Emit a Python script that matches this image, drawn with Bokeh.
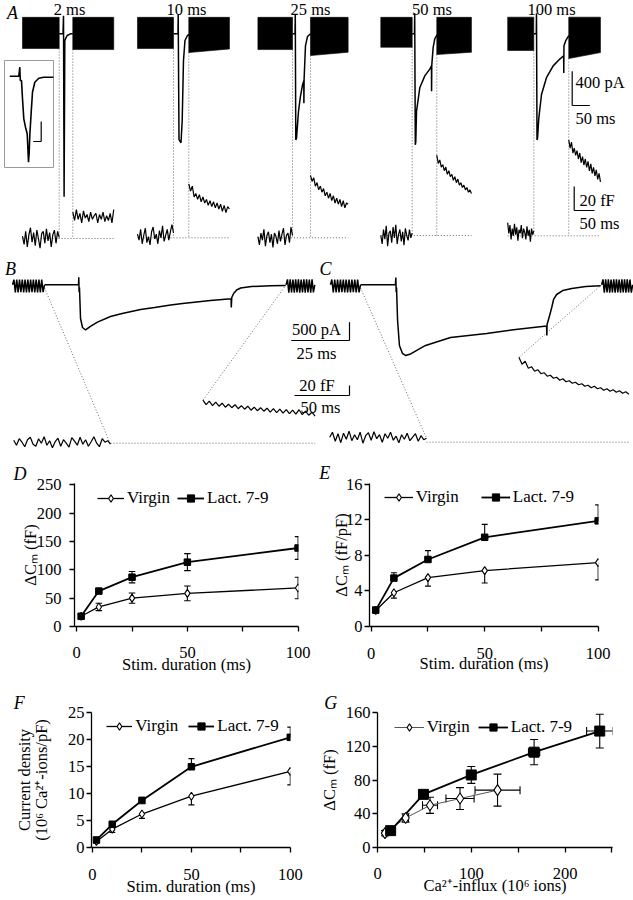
import numpy as np
from bokeh.plotting import figure
from bokeh.models import (Range1d, FixedTicker, Label, Legend, LegendItem,
                          Whisker, TeeHead, ColumnDataSource)
from bokeh.layouts import column, row
from bokeh.embed import file_html
from bokeh.resources import INLINE

# ===================== DATA =====================
stim_ms = [2, 10, 25, 50, 100]
D_virgin = [18, 34.5, 50, 58.5, 68]
D_virgin_sem = [4, 6.5, 9, 13, 19]
D_lact = [18, 62.5, 87, 113.5, 138.5]
D_lact_sem = [4, 4, 10, 15, 20]
E_virgin = [1.8, 3.8, 5.5, 6.3, 7.2]
E_virgin_sem = [0.3, 0.6, 0.95, 1.4, 1.95]
E_lact = [1.85, 5.45, 7.55, 10.05, 11.9]
E_lact_sem = [0.3, 0.6, 1.0, 1.45, 1.8]
F_virgin = [1.1, 3.4, 6.2, 9.5, 14.1]
F_virgin_sem = [0.3, 0.6, 0.8, 1.6, 2.5]
F_lact = [1.4, 4.3, 8.7, 14.95, 20.4]
F_lact_sem = [0.3, 0.4, 0.6, 1.5, 1.9]
G_virgin_influx = [8, 30, 56, 88, 128]
G_virgin_influx_sem = [2, 3, 8, 15, 24]
G_virgin_dcm = [17, 35, 50, 58, 68]
G_virgin_dcm_sem = [3, 5, 9.5, 13, 19]
G_lact_influx = [14, 49, 100, 167, 237]
G_lact_influx_sem = [2, 3, 4, 6, 14]
G_lact_dcm = [20, 63, 86, 113, 138]
G_lact_dcm_sem = [3, 4, 10, 15, 20]

# Panel A: current traces (ms from end of pre-train, pA)
A_labels = ["2 ms", "10 ms", "25 ms", "50 ms", "100 ms"]
A_t = [
    [0, 10.8, 12.2, 13.9, 15.9, 17.8, 22.6, 32, 38.5],
    [0, 12.7, 13.3, 15.6, 21.2, 24.6, 28.3, 32.5, 39.6, 48],
    [0, 7.1, 7.9, 9.3, 11.3, 17, 22.6, 28.3, 32, 32.3, 32.9, 36.8, 42.5, 51],
    [0, 6.5, 7.1, 8.8, 10.2, 12.2, 21.5, 35.7, 49.8, 54.6, 54.9, 55.5, 59.4, 64, 70.7],
    [0, 7.1, 7.6, 9.1, 10.5, 14.2, 21.8, 35.9, 54.9, 73.6, 84.6, 84.9, 85.5, 90.6, 99],
]
A_i = [
    [0, 0, 210, -1900, -80, -60, -20, 0, 0],
    [0, 0, 228, -1235, -1271, -1018, -312, -78, -20, 0],
    [0, 0, 228, -1236, -1220, -904, -727, -598, -551, -810, -527, -138, -32, 0],
    [0, 0, 240, -1295, -1259, -905, -630, -491, -412, -374, -669, -362, -158, -59, -8],
    [0, 0, 240, -1239, -1220, -984, -708, -512, -374, -295, -256, -457, -138, -79, -20],
]
A_pre_train_ms = [(-104, 0), (-102, 0), (-98, 0), (-89, 0), (-74, 0)]
A_post_train_ms = [(38.5, 154.5), (43.3, 158.5), (50.9, 157.6), (69.6, 167.8), (99, 188.8)]
A_train_top_pA = [192, 192, 192, 192, 194]
A_pre_train_bottom_pA = [-172, -172, -184, -157, -195]
A_post_train_bottom_pA = [(-184, -184), (-219, -177), (-254, -215), (-242, -215), (-289, -219)]
A_cap_pre_fF = [
    [2, -5, 6, -7, 3, 9, -3, 5, -6, 7, 0, -8, 4, 6, -4, 8, -2, 5, -7, 3, 7, -4, 6, 1],
    [3, -2, 7, -5, 2, 8, -4, 1, -6, 5, 9, -1, 3, -5, 6, 0, 10, -3, 2, 7, -2, 5, 11, 4],
    [1, -6, 4, -2, 7, -7, 2, 5, -4, 3, -8, 4, 1, -5, 6, -3, 3, 8, -6, 2, 4, -4, 9, 2],
    [0, -7, 5, -3, 8, -9, 2, 4, -6, 7, -2, 9, -7, 1, 5, -5, 3, -8, 6, 0, -4, 5, -2, 2],
    [11, 2, 9, -3, 6, 0, 10, 1, 7, -4, 5, 2, 9, -2, 6, 3, -3, 8, 0, 5, -5, 6, 1, 4],
]
A_cap_post_fF = [
    [22, 15, 24, 16, 21, 13, 23, 17, 20, 14, 22, 16, 19, 21, 13, 20, 16, 22, 14, 19, 15, 21, 13, 24],
    [45, 39, 43, 34, 37, 32, 36, 30, 34, 29, 32, 27, 31, 26, 30, 25, 29, 24, 28, 22, 27, 21, 26, 24],
    [52, 47, 50, 43, 46, 40, 43, 38, 41, 35, 38, 33, 37, 31, 35, 29, 33, 28, 32, 26, 31, 25, 29, 28],
    [67, 60, 63, 57, 59, 54, 57, 51, 54, 49, 51, 46, 49, 44, 47, 42, 44, 40, 42, 38, 40, 36, 38, 35],
    [80, 73, 78, 69, 73, 67, 71, 64, 69, 61, 66, 59, 64, 57, 62, 54, 60, 52, 57, 50, 55, 47, 52, 45],
]
inset_t = [0, 4.5, 5.0, 5.25, 5.85, 6.35, 7.0, 7.85, 8.7, 9.35, 9.7, 10.0, 10.7, 11.35, 12.5, 14.5, 17.0, 21.8]
inset_i = [0, 0, 90, -43, -43, -226, -426, -510, -576, -860, -760, -593, -360, -160, -60, -20, -10, -10]
inset_bar = (4, 200)
A_bar_I = (50, 400)
A_bar_C = (50, 20)

# Panels B and C
B_t = [0, 14.6, 14.7, 14.85, 15.0, 15.45, 16.3, 17.6, 19.7, 22.7, 28.3, 33.3, 41.2, 47.2, 54.1,
       59.2, 71.2, 80.0, 80.1, 80.3, 81.1, 82.4, 84.1, 88.8, 97.0, 103.4]
B_i = [0, 0, 208, -200, -74, -920, -1166, -1234, -1138, -1021, -865, -783, -674, -620, -551,
       -511, -429, -382, -620, -347, -238, -142, -87, -46, -27, -19]
C_t = [0, 15.0, 15.15, 15.3, 15.45, 15.9, 16.7, 18.0, 19.3, 21.5, 27.9, 38.6, 54.1, 66.5, 79.8,
       79.9, 80.0, 81.1, 82.0, 82.8, 84.1, 86.7, 90.6, 96.6, 103.0]
C_i = [0, 0, 200, -200, -74, -975, -1657, -1876, -1930, -1889, -1657, -1439, -1330, -1220, -1125,
       -1384, -1084, -838, -620, -401, -265, -156, -101, -46, -27]
B_trains_ms = [(-13.7, 0), (103.6, 115.9)]
C_trains_ms = [(-12.9, 0), (103.4, 116.7)]
B_train_pre_pA = [0, 140, -205, 145, -210, 140, -200, 145, -210, 145, -205, 140, -210, 145, -200, 140, -210, 145, -205, 140, -210, 145, -200, 0]
B_train_post_pA = [0, 150, -215, 150, -210, 145, -215, 150, -210, 150, -215, 145, -210, 150, -215, 150, -210, 145, -215, 150, -210, 0]
C_train_pre_pA = [0, 145, -210, 140, -205, 145, -210, 140, -200, 145, -210, 140, -205, 145, -210, 140, -200, 145, -210, 140, -205, 0]
C_train_post_pA = [0, 150, -215, 150, -210, 150, -215, 145, -210, 150, -215, 150, -210, 145, -215, 150, -210, 150, -215, 150, -210, 145, -215, 0]
B_cap_span_ms = [(-88, 0), (84, 186)]
C_cap_span_ms = [(-88, 0), (84, 184)]
B_cap_pre_fF = [6, -4, 9, 2, -7, 7, 12, -2, -6, 9, 0, 13, -4, 5, -9, 3, 10, -6, 7, 0, -8, 11, 4, -4, 12, -2, 7, -6, 3, 13, 0, -7, 9, 2, 5, -2]
B_cap_post_fF = [86, 77, 84, 75, 82, 74, 80, 72, 78, 71, 77, 69, 75, 68, 74, 66, 72, 65, 71, 64, 70, 62, 69, 61, 68, 60, 67, 59, 66, 58, 67, 57, 64, 56, 62, 54]
C_cap_pre_fF = [10, 20, 2, 17, -1, 18, 6, 22, 3, 15, 5, 20, -2, 13, 19, 4, 21, 7, 15, 0, 17, 8, 20, 4, 12, -1, 15, 6, 18, 3, 10, 17, 2, 13, 5, 8]
C_cap_post_fF = [170, 156, 162, 148, 151, 142, 145, 137, 139, 132, 134, 128, 130, 124, 127, 121, 123, 118, 120, 115, 117, 112, 114, 109, 112, 107, 109, 104, 107, 102, 105, 100, 103, 98, 101, 96]
BC_bar_I = (25, 500)
BC_bar_C = (50, 20)

# ===================== STYLE / LAYOUT =====================
SERIF = "Liberation Serif"
FRAMES = {}

top = figure(width=633, height=452, x_range=Range1d(0, 633), y_range=Range1d(452, 0),
             x_axis_location=None, y_axis_location=None, output_backend="svg",
             toolbar_location=None, min_border=0)
top.grid.visible = False
top.outline_line_color = None


def tx(x0, kx, t):
    return [x0 + kx * v for v in t]


def ty(y0, ky, v):
    return [y0 - ky * u for u in v]


def tlabel(text, x, y, size, align="center", style="normal"):
    top.add_layout(Label(x=x, y=y, text=text, text_font=SERIF, text_font_size=f"{size}px",
                         text_align=align, text_baseline="middle", text_font_style=style,
                         text_color="black"))


A_x0 = [58.7, 173.0, 292.0, 411.7, 533.3]
A_label_x = [69, 186, 310, 431.5, 551]
A_y_hold = 33.3
A_y_cap = [238.0, 237.3, 237.3, 235.0, 235.3]
A_kx = 0.353
A_ky = 34.3 / 400
A_cky = 24 / 20
A_ckx_bar = 20.3 / 50

pxs, pys, cxs, cys, capx, capy, dxs, dys = [], [], [], [], [], [], [], []
for k in range(5):
    x0, yc = A_x0[k], A_y_cap[k]
    p0, p1 = A_pre_train_ms[k]
    q0, q1 = A_post_train_ms[k]
    tp = A_train_top_pA[k]
    pb = A_pre_train_bottom_pA[k]
    qbl, qbr = A_post_train_bottom_pA[k]
    pxs.append(tx(x0, A_kx, [p0, p1, p1, p0]))
    pys.append(ty(A_y_hold, A_ky, [tp, tp, pb, pb]))
    pxs.append(tx(x0, A_kx, [q0, q1, q1, q0]))
    pys.append(ty(A_y_hold, A_ky, [tp, tp, qbr, qbl]))
    cxs.append(tx(x0, A_kx, A_t[k]))
    cys.append(ty(A_y_hold, A_ky, A_i[k]))
    pre, post = A_cap_pre_fF[k], A_cap_post_fF[k]
    capx.append(tx(x0, A_kx, np.linspace(p0, p1, len(pre))))
    capy.append(ty(yc, A_cky, pre))
    capx.append(tx(x0, A_kx, np.linspace(q0, q1, len(post))))
    capy.append(ty(yc, A_cky, post))
    xa, xb = tx(x0, A_kx, [p1, q0])
    dxs += [[xa, xa], [xb, xb], tx(x0, A_kx, [p0, q1])]
    dys += [[ty(A_y_hold, A_ky, [pb])[0], yc], [ty(A_y_hold, A_ky, [qbl])[0], yc], [yc, yc]]
    tlabel(A_labels[k], A_label_x[k], 8.5, 16.5)

BC_kx, BC_ky = 58.3 / 25, 18.3 / 500
BC_ckx, BC_cky = 55 / 50, 10 / 20
BC_hold = 284.3
panels_bc = [
    dict(x0=44, cx0=110, cy0=442.7, t=B_t, i=B_i, trains=B_trains_ms,
         tv=[B_train_pre_pA, B_train_post_pA], span=B_cap_span_ms,
         cap=[B_cap_pre_fF, B_cap_post_fF]),
    dict(x0=360, cx0=426, cy0=441.7, t=C_t, i=C_i, trains=C_trains_ms,
         tv=[C_train_pre_pA, C_train_post_pA], span=C_cap_span_ms,
         cap=[C_cap_pre_fF, C_cap_post_fF]),
]
for d in panels_bc:
    cxs.append(tx(d["x0"], BC_kx, d["t"]))
    cys.append(ty(BC_hold, BC_ky, d["i"]))
    for (a, b), vals in zip(d["trains"], d["tv"]):
        cxs.append(tx(d["x0"], BC_kx, np.linspace(a, b, len(vals))))
        cys.append(ty(BC_hold, BC_ky, vals))
    seg_x, seg_y = [], []
    for (a, b), vals in zip(d["span"], d["cap"]):
        xs = tx(d["cx0"], BC_ckx, np.linspace(a, b, len(vals)))
        ys = ty(d["cy0"], BC_cky, vals)
        capx.append(xs)
        capy.append(ys)
        seg_x.append(xs)
        seg_y.append(ys)
    pre_end_x = tx(d["x0"], BC_kx, [d["trains"][0][1]])[0]
    post_start_x = tx(d["x0"], BC_kx, [d["trains"][1][0]])[0]
    dxs += [[pre_end_x, seg_x[0][-1]], [post_start_x, seg_x[1][0]], [seg_x[0][-1], seg_x[1][-1]]]
    dys += [[BC_hold + 3, seg_y[0][-1]], [BC_hold, seg_y[1][0]], [d["cy0"], d["cy0"]]]

top.patches(xs=pxs, ys=pys, fill_color="black", line_color="black", line_width=0.6)
top.multi_line(xs=dxs, ys=dys, line_color="#444444", line_width=0.8, line_dash="1 2")
top.multi_line(xs=capx, ys=capy, line_color="black", line_width=1.2)
top.multi_line(xs=cxs, ys=cys, line_color="black", line_width=1.5)

top.quad(left=4, right=53, top=60, bottom=167, fill_color=None, line_color="#9a9a9a", line_width=1)
top.line(tx(9.3, 2.0, inset_t), ty(75.7, 0.1, inset_i), line_color="black", line_width=1.6)
ix, iy = 40.7, 141
top.multi_line(xs=[[ix, ix], [ix - 2.0 * inset_bar[0], ix]],
               ys=[[iy, iy - 0.1 * inset_bar[1]], [iy, iy]], line_color="black", line_width=1.2)

sx, sy = 571.7, 105
top.multi_line(xs=[[sx, sx], [sx, sx + A_kx * A_bar_I[0]]],
               ys=[[sy, sy - A_ky * A_bar_I[1]], [sy, sy]], line_color="black", line_width=1.2)
sx, sy = 573.7, 210
top.multi_line(xs=[[sx, sx], [sx, sx + A_ckx_bar * A_bar_C[0]]],
               ys=[[sy, sy - A_cky * A_bar_C[1]], [sy, sy]], line_color="black", line_width=1.2)
sx, sy = 349, 340
top.multi_line(xs=[[sx, sx], [sx - BC_kx * BC_bar_I[0], sx]],
               ys=[[sy, sy - BC_ky * BC_bar_I[1]], [sy, sy]], line_color="black", line_width=1.2)
sx, sy = 349, 395
top.multi_line(xs=[[sx, sx], [sx - BC_ckx * BC_bar_C[0], sx]],
               ys=[[sy, sy - BC_cky * BC_bar_C[1]], [sy, sy]], line_color="black", line_width=1.2)

tlabel(f"{A_bar_I[1]} pA", 575, 82, 16.5, align="left")
tlabel(f"{A_bar_I[0]} ms", 575, 117.5, 16.5, align="left")
tlabel(f"{A_bar_C[1]} fF", 579, 199.5, 16.5, align="left")
tlabel(f"{A_bar_C[0]} ms", 579, 223, 16.5, align="left")
tlabel(f"{BC_bar_I[1]} pA", 316, 329, 16.5)
tlabel(f"{BC_bar_I[0]} ms", 316, 352.5, 16.5)
tlabel(f"{BC_bar_C[1]} fF", 316.5, 385, 16.5)
tlabel(f"{BC_bar_C[0]} ms", 320, 407, 16.5)
tlabel("A", 12, 12, 18, style="italic")
tlabel("B", 10, 268, 18, style="italic")
tlabel("C", 325, 268, 18, style="italic")


# ---------- panels D-G ----------
def axes_fig(region, frame, xr, yr, xticks, xshow, yticks, xstand, ystand,
             letter, letter_left, letter_standoff, xlabel, xl_stand, ylabel, yl_stand,
             yl_line_height=1.2):
    rl, rt, rr, rb = region
    fl, ft, fr, fb = frame
    W, H = round(rr - rl), round(rb - rt)
    L, T = round(fl - rl), round(ft - rt)
    FW, FH = round(fr - fl), round(fb - ft)
    p = figure(width=W, height=H, min_border_left=L, min_border_right=W - L - FW,
               min_border_top=T, min_border_bottom=H - T - FH,
               x_range=Range1d(*xr), y_range=Range1d(*yr),
               output_backend="svg", toolbar_location=None, title=letter)
    p.grid.visible = False
    p.outline_line_color = None
    p.title.text_font = SERIF
    p.title.text_font_style = "italic"
    p.title.text_font_size = "18px"
    p.title.text_color = "black"
    p.title.align = "left"
    p.title.offset = letter_left - fl
    p.title.standoff = letter_standoff
    p.xaxis.ticker = FixedTicker(ticks=xticks, minor_ticks=[])
    p.yaxis.ticker = FixedTicker(ticks=yticks, minor_ticks=[])
    p.xaxis.major_label_overrides = {t: (str(t) if t in xshow else "") for t in xticks}
    for ax in p.axis:
        ax.axis_line_color = "black"
        ax.axis_line_width = 1.3
        ax.major_tick_line_color = "black"
        ax.major_tick_line_width = 1.3
        ax.major_tick_out = 5
        ax.major_tick_in = 0
        ax.minor_tick_out = 0
        ax.minor_tick_in = 0
        ax.major_label_text_font = SERIF
        ax.major_label_text_font_size = "16.5px"
        ax.major_label_text_color = "black"
        ax.axis_label_text_font = SERIF
        ax.axis_label_text_font_size = "16.5px"
        ax.axis_label_text_font_style = "normal"
        ax.axis_label_text_color = "black"
    p.xaxis.major_label_standoff = xstand
    p.yaxis.major_label_standoff = ystand
    p.xaxis.axis_label = xlabel
    p.xaxis.axis_label_standoff = xl_stand
    p.yaxis.axis_label = ylabel
    p.yaxis.axis_label_standoff = yl_stand
    p.yaxis.axis_label_text_line_height = yl_line_height
    FRAMES[p.id] = (fl, ft, fr, fb, FH)
    return p


def whisk(p, base, lo, hi, dim, head, up=True, down=True):
    src = ColumnDataSource(dict(base=base, lower=lo, upper=hi))
    p.add_layout(Whisker(source=src, base="base", lower="lower", upper="upper", dimension=dim,
                         line_color="black", line_width=1.1,
                         upper_head=TeeHead(size=head, line_color="black", line_width=1.1) if up else None,
                         lower_head=TeeHead(size=head, line_color="black", line_width=1.1) if down else None))


def series_pair(p, xv, yv, xl, yl, msize_v, msize_l, virgin_color="black", virgin_lw=1.3):
    lv = p.line(xv, yv, line_color=virgin_color, line_width=virgin_lw)
    ll = p.line(xl, yl, line_color="black", line_width=1.8)
    mv = p.scatter(xv, yv, marker="diamond", size=msize_v, fill_color="white",
                   line_color="black", line_width=1.1)
    ml = p.scatter(xl, yl, marker="square", size=msize_l, fill_color="black", line_color="black")
    return lv, mv, ll, ml


def add_legend(p, rends, rx_start, glyph_w, spacing, drop=26):
    fl, ft, fr, fb, FH = FRAMES[p.id]
    lv, mv, ll, ml = rends
    leg = Legend(items=[LegendItem(label="Virgin", renderers=[lv, mv]),
                        LegendItem(label="Lact. 7-9", renderers=[ll, ml])],
                 location=(rx_start - fl, FH - drop),
                 orientation="horizontal", glyph_width=glyph_w, glyph_height=18,
                 label_height=18, label_standoff=3, spacing=spacing, padding=0,
                 margin=0, border_line_color=None, background_fill_alpha=0,
                 label_text_font=SERIF, label_text_font_size="17px", label_text_color="black")
    p.add_layout(leg)


# D
pD = axes_fig((0, 452, 316, 676), (74, 482, 298, 626), (-1, 100.2), (0, 252.3),
              [0, 25, 50, 75, 100], [0, 50, 100], [0, 50, 100, 150, 200, 250], 15, 8,
              "D", 13, 0, "Stim. duration (ms)", -6, "ΔCₘ (fF)", -6)
whisk(pD, stim_ms, [a - b for a, b in zip(D_virgin, D_virgin_sem)],
      [a + b for a, b in zip(D_virgin, D_virgin_sem)], "height", 6.5)
whisk(pD, stim_ms, [a - b for a, b in zip(D_lact, D_lact_sem)],
      [a + b for a, b in zip(D_lact, D_lact_sem)], "height", 6.5)
rD = series_pair(pD, stim_ms, D_virgin, stim_ms, D_lact, 8, 6.5)
add_legend(pD, rD, 97, 27, 7)

# E (one-sided error bars)
pE = axes_fig((316, 452, 633, 676), (369.3, 483, 598, 628.3), (-0.75, 100.15), (0, 16.11),
              [0, 25, 50, 75, 100], [0, 50, 100], [0, 4, 8, 12, 16], 16, 2,
              "E", 319, 1, "Stim. duration (ms)", -8, "ΔCₘ (fF/pF)", -8)
whisk(pE, stim_ms, [a - b for a, b in zip(E_virgin, E_virgin_sem)], E_virgin, "height", 6, up=False)
whisk(pE, stim_ms, E_lact, [a + b for a, b in zip(E_lact, E_lact_sem)], "height", 6, down=False)
rE = series_pair(pE, stim_ms, E_virgin, stim_ms, E_lact, 8, 6.5)
add_legend(pE, rE, 384, 29, 22)

# F (one-sided error bars)
pF = axes_fig((0, 676, 316, 900), (90.7, 705, 290, 846.7), (-0.5, 100.1), (0, 25),
              [0, 25, 50, 75, 100], [0, 50, 100], [0, 5, 10, 15, 20, 25], 16, 2,
              "F", 13, 0, "Stim. duration (ms)", -6,
              "Current density\n(10⁶ Ca²⁺-ions/pF)", 14, 0.9)
whisk(pF, stim_ms, [a - b for a, b in zip(F_virgin, F_virgin_sem)], F_virgin, "height", 6, up=False)
whisk(pF, stim_ms, F_lact, [a + b for a, b in zip(F_lact, F_lact_sem)], "height", 6, down=False)
rF = series_pair(pF, stim_ms, F_virgin, stim_ms, F_lact, 8, 6.5)
add_legend(pF, rF, 106, 26, 10, drop=31)

# G
pG = axes_fig((316, 676, 633, 900), (369.3, 711.7, 612, 847.3), (0, 250.6), (0, 160),
              [0, 50, 100, 150, 200, 250], [0, 100, 200], [0, 40, 80, 120, 160], 15, 2,
              "G", 316, 0, "Ca²⁺-influx (10⁶ ions)", -6, "ΔCₘ (fF)", 4)
whisk(pG, G_virgin_influx, [a - b for a, b in zip(G_virgin_dcm, G_virgin_dcm_sem)],
      [a + b for a, b in zip(G_virgin_dcm, G_virgin_dcm_sem)], "height", 8)
whisk(pG, G_virgin_dcm, [a - b for a, b in zip(G_virgin_influx, G_virgin_influx_sem)],
      [a + b for a, b in zip(G_virgin_influx, G_virgin_influx_sem)], "width", 8)
whisk(pG, G_lact_influx, [a - b for a, b in zip(G_lact_dcm, G_lact_dcm_sem)],
      [a + b for a, b in zip(G_lact_dcm, G_lact_dcm_sem)], "height", 8)
whisk(pG, G_lact_dcm, [a - b for a, b in zip(G_lact_influx, G_lact_influx_sem)],
      [a + b for a, b in zip(G_lact_influx, G_lact_influx_sem)], "width", 8)
rG = series_pair(pG, G_virgin_influx, G_virgin_dcm, G_lact_influx, G_lact_dcm, 11, 10,
                 virgin_color="#555555", virgin_lw=1.0)
add_legend(pG, rG, 386, 30, 8)

layout = column(top, row(pD, pE), row(pF, pG))
open("out.html", "w").write(file_html(layout, INLINE))
